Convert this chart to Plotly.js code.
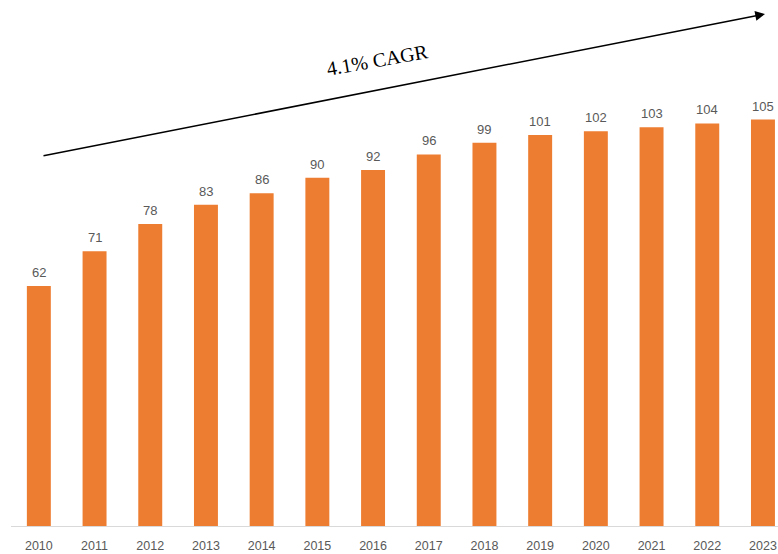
<!DOCTYPE html>
<html>
<head>
<meta charset="utf-8">
<script src="https://cdn.plot.ly/plotly-3.0.1.min.js"></script>
<style>html,body{margin:0;padding:0;background:#fff;}#chart{width:778px;height:554px;}</style>
</head>
<body>
<div id="chart"></div>
<script>
const years = ['2010','2011','2012','2013','2014','2015','2016','2017','2018','2019','2020','2021','2022','2023'];
const values = [62,71,78,83,86,90,92,96,99,101,102,103,104,105];
const cagrLabel = '4.1% CAGR';

const trace = {
  type: 'bar',
  x: years,
  y: values,
  marker: {color: '#ED7D31'},
  width: 0.43,
  hoverinfo: 'none'
};

const valueLabels = years.map((yr, i) => ({
  x: i, y: values[i], xref: 'x', yref: 'y',
  text: String(values[i]), showarrow: false,
  xanchor: 'center', yanchor: 'bottom', yshift: 4,
  font: {family: 'Liberation Sans, Arial, sans-serif', size: 13, color: '#595959'}
}));

const layout = {
  width: 778, height: 554,
  margin: {l: 11, r: 0, t: 0, b: 28},
  paper_bgcolor: '#fff', plot_bgcolor: '#fff',
  showlegend: false,
  xaxis: {
    type: 'category',
    range: [-0.5, 13.27],
    showline: true, linecolor: '#d9d9d9', linewidth: 1,
    ticks: '', showgrid: false, zeroline: false,
    ticklabelstandoff: 8,
    tickfont: {family: 'Liberation Sans, Arial, sans-serif', size: 12.5, color: '#595959'}
  },
  yaxis: {
    range: [0, 135.9],
    visible: false, showgrid: false, zeroline: false
  },
  annotations: [
    {
      xref: 'paper', yref: 'paper',
      x: (765 - 11) / 767, y: (526 - 14) / 526,
      ax: -723, ay: 142, axref: 'pixel', ayref: 'pixel',
      showarrow: true, arrowhead: 2, arrowsize: 1.3, arrowwidth: 1.5, arrowcolor: '#000',
      text: ''
    },
    {
      xref: 'paper', yref: 'paper',
      x: (377 - 11) / 767, y: (526 - 60) / 526,
      xanchor: 'center', yanchor: 'middle',
      showarrow: false, text: cagrLabel, textangle: -10,
      font: {family: 'Liberation Serif, Times New Roman, serif', size: 20, color: '#000'}
    }
  ].concat(valueLabels)
};

Plotly.newPlot('chart', [trace], layout, {staticPlot: true, displayModeBar: false});
</script>
</body>
</html>
